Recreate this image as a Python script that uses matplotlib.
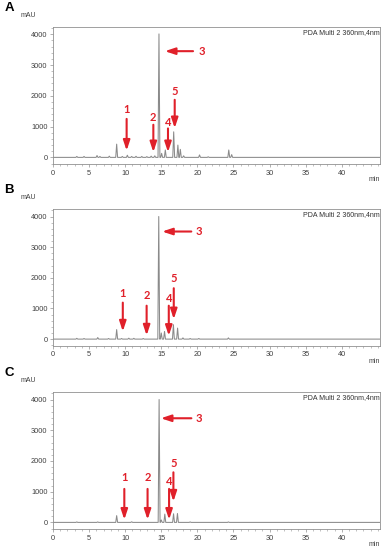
import matplotlib.pyplot as plt
from matplotlib.ticker import MultipleLocator

# peak retention times (min) and heights (mAU)
peaks_t_a = [3.3, 4.3, 6.1, 6.5, 7.8, 8.82, 9.6, 10.3, 10.9, 11.5, 12.3, 13.0, 13.6, 14.1,
             14.68, 15.05, 15.56, 16.72, 17.3, 17.64, 18.1, 20.3, 21.5, 24.35, 24.75]
peaks_h_a = [30, 30, 60, 30, 40, 430, 30, 70, 30, 35, 30, 25, 40, 50,
             4010, 130, 240, 830, 400, 260, 50, 80, 20, 240, 90]

peaks_t_b = [3.3, 4.3, 6.2, 7.7, 8.82, 9.5, 10.5, 11.2, 12.5, 14.65, 15.0, 15.45,
             16.68, 17.26, 18.0, 19.0, 20.2, 24.3]
peaks_h_b = [25, 20, 50, 20, 310, 20, 30, 25, 20, 4000, 200, 250,
             470, 360, 40, 20, 20, 40]

peaks_t_c = [3.3, 6.2, 8.82, 10.9, 14.7, 15.0, 15.49, 16.7, 17.24, 19.0, 24.3]
peaks_h_c = [15, 15, 220, 20, 4000, 80, 270, 280, 290, 15, 15]

# numbered arrows: label, x (min), label y, shaft top, tip (mAU)
arrow_labels = ['1', '2', '4', '5']
arrow_x_a = [10.2, 13.9, 15.93, 16.86]
label_y_a = [1540, 1300, 1140, 2130]
arrow_top_a = [1250, 1060, 940, 1870]
arrow_tip_a = [220, 170, 170, 950]

arrow_x_b = [9.67, 12.97, 16.04, 16.73]
label_y_b = [1500, 1410, 1340, 1990]
arrow_top_b = [1190, 1090, 1090, 1660]
arrow_tip_b = [250, 120, 110, 650]

arrow_x_c = [9.88, 13.1, 16.08, 16.68]
label_y_c = [1450, 1450, 1340, 1930]
arrow_top_c = [1090, 1090, 1090, 1630]
arrow_tip_c = [90, 90, 90, 680]

# horizontal arrow "3": y (mAU), tail x, tip x, label x (min)
arrow3_a = [3450, 19.4, 15.5, 20.6]
arrow3_b = [3510, 19.16, 15.12, 20.2]
arrow3_c = [3390, 19.17, 14.94, 20.22]

panels = [
    ('A', peaks_t_a, peaks_h_a, arrow_x_a, label_y_a, arrow_top_a, arrow_tip_a, arrow3_a),
    ('B', peaks_t_b, peaks_h_b, arrow_x_b, label_y_b, arrow_top_b, arrow_tip_b, arrow3_b),
    ('C', peaks_t_c, peaks_h_c, arrow_x_c, label_y_c, arrow_top_c, arrow_tip_c, arrow3_c),
]

W, H = 385, 550
RED = '#e0202a'
GREY = '#909090'
TXT = '#404040'
HALF_W = 0.13
T_END = 45.3
ARROW = '-|>,head_length=0.6,head_width=0.2'

fig = plt.figure(figsize=(W / 100, H / 100), dpi=100)
axes_px = [(27, 164), (209.3, 345.7), (392.3, 529)]  # top, bottom in pixels
left, right = 53, 380


def trace(ts, hs):
    xs, ys = [0.0], [0.0]
    for t, h in sorted(zip(ts, hs)):
        xs += [t - HALF_W, t, t + HALF_W]
        ys += [0, h, 0]
    xs.append(T_END)
    ys.append(0)
    return xs, ys


for (top, bot), (letter, pt, ph, ax_x, lab_y, a_top, a_tip, a3) in zip(axes_px, panels):
    ax = fig.add_axes([left / W, 1 - bot / H, (right - left) / W, (bot - top) / H])
    xs, ys = trace(pt, ph)
    ax.plot(xs, ys, color='#8a8a8a', lw=0.75)
    ax.set_xlim(0, T_END)
    ax.set_ylim(-215, 4235)
    ax.xaxis.set_minor_locator(MultipleLocator(1))
    ax.yaxis.set_major_locator(MultipleLocator(1000))
    ax.yaxis.set_minor_locator(MultipleLocator(200))
    ax.set_xticks(range(0, 45, 5))
    for s in ax.spines.values():
        s.set_color(GREY)
        s.set_linewidth(0.6)
    ax.tick_params(which='major', length=2.5, width=0.5, color=GREY,
                   labelsize=5.3, labelcolor=TXT, pad=1.5)
    ax.tick_params(which='minor', length=1.3, width=0.4, color=GREY)
    for lab in ax.get_xticklabels() + ax.get_yticklabels():
        lab.set_family('Liberation Sans')

    ax.text(0.998, 0.985, 'PDA Multi 2 360nm,4nm', transform=ax.transAxes,
            ha='right', va='top', fontsize=5, color='#303030', family='Liberation Sans')

    for lab, x, ly, at, tip in zip(arrow_labels, ax_x, lab_y, a_top, a_tip):
        ax.annotate('', xy=(x, tip), xytext=(x, at),
                    arrowprops=dict(arrowstyle=ARROW, color=RED, lw=1.5,
                                    mutation_scale=10, shrinkA=0, shrinkB=0))
        ax.text(x, ly, lab, ha='center', va='center', color=RED,
                fontsize=8, fontweight='bold', family='Lato')
    y3, tail3, tip3, lx3 = a3
    ax.annotate('', xy=(tip3, y3), xytext=(tail3, y3),
                arrowprops=dict(arrowstyle=ARROW, color=RED, lw=1.5,
                                mutation_scale=10, shrinkA=0, shrinkB=0))
    ax.text(lx3, y3, '3', ha='center', va='center', color=RED,
            fontsize=8, fontweight='bold', family='Lato')

    fig.text(9 / W, 1 - (top - 19) / H, letter, ha='center', va='center',
             fontsize=9.5, fontweight='bold', family='Liberation Sans')
    fig.text(28 / W, 1 - (top - 11.5) / H, 'mAU', ha='center', va='center',
             fontsize=5, color=TXT, family='Liberation Sans')
    fig.text(right / W, 1 - (bot + 15.5) / H, 'min', ha='right', va='center',
             fontsize=5, color=TXT, family='Liberation Sans')

fig.savefig('out.png', dpi=100)
